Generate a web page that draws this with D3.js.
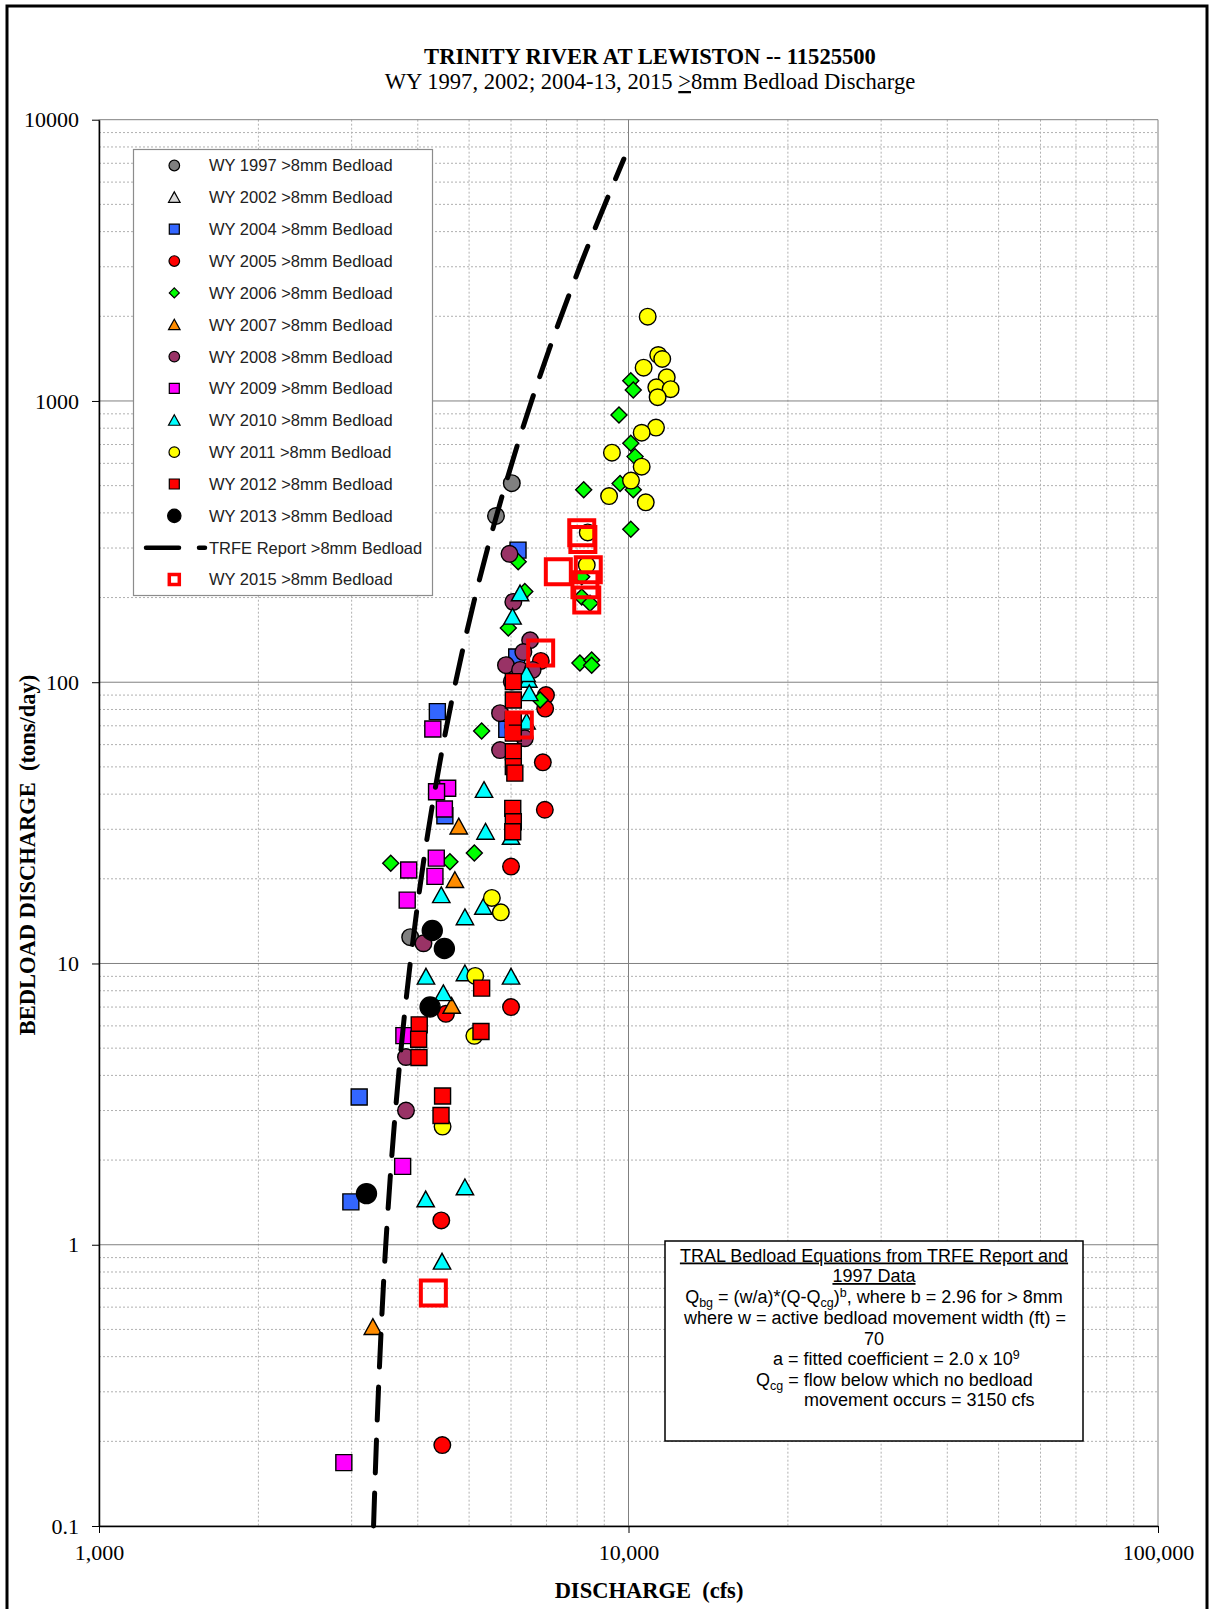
<!DOCTYPE html>
<html>
<head>
<meta charset="utf-8">
<script src="https://cdn.jsdelivr.net/npm/d3@7"></script>
<style>
  body { margin: 0; background: #fff; }
  .serif { font-family: "Liberation Serif", "Times New Roman", serif; }
  .sans { font-family: "Liberation Sans", Arial, sans-serif; }
  text { white-space: pre; }
</style>
</head>
<body>
<script>
// ---- data: [discharge (cfs), bedload (tons/day)] ----
const wy1997 = [[6020,510],[5620,390],[3870,12.4]];
const wy2002 = [];
const wy2004 = [[6185,295],[4355,78.6],[4500,33.5],[3100,3.35],[2990,1.42],[6150,123],[5890,68]];
const wy2005 = [[6830,119],[6985,90],[6960,80.6],[6890,51.9],[6950,35.2],[6000,22.1],[6000,7.0],
                [4520,6.62],[4430,1.22],[4450,0.194]];
const wy2006 = [[10100,1181],[10210,1094],[9595,891],[10100,707],[10290,634],[9640,509],[10210,483],
                [8230,483],[10100,350],[6190,268],[6370,210],[5930,156],[8095,117],[8520,120],[8520,115],
                [6810,86.5],[5280,67.1],[5115,24.7],[4600,23.0],[3556,22.7],[8160,237],[8160,201],[8460,191]];
const wy2007 = [[4780,30.7],[4700,19.8],[4635,7.07],[3290,0.51]];
const wy2008 = [[5960,286],[6060,193],[6520,141],[6330,128],[5870,115],[6240,110.6],[6590,110.6],
                [6020,100.5],[5720,77.6],[6370,63.2],[5720,57.4],[4100,11.8],[3800,4.65],[3800,3.0]];
const wy2009 = [[4270,68.2],[4555,42.0],[4340,40.8],[4490,35.4],[4335,23.7],[3845,21.5],[4310,20.4],
                [3820,16.8],[3765,5.54],[3745,1.90],[2900,0.168]];
const wy2010 = [[6240,207],[6040,171],[6470,102],[6420,107],[6495,91.4],[6420,72.4],[5335,41.4],
                [5370,29.4],[6000,28.2],[4430,17.5],[5320,15.9],[4910,14.6],[4145,8.98],[4910,9.23],
                [6000,8.98],[4470,7.84],[4140,1.45],[4910,1.60],[4445,0.871]];
const wy2011 = [[10870,1993],[11380,1457],[11580,1410],[10680,1313],[11810,1214],[11285,1118],
                [12010,1101],[11350,1031],[11270,804],[10590,771],[9305,655],[10590,584],[10110,521],
                [9190,459],[10780,436],[8375,341],[8340,261],[5520,17.1],[5740,15.2],[5135,9.03],
                [5115,5.53],[4455,2.63]];
const wy2012 = [[6060,100.5],[6060,86.5],[6060,73.5],[6060,65.9],[6060,56.6],[6060,50.1],[6100,47.5],
                [6045,35.6],[6060,31.9],[6045,29.4],[5280,8.17],[4025,6.05],[4015,5.38],[4020,4.63],
                [5265,5.73],[4455,3.38],[4425,2.88]];
const wy2013 = [[4260,13.1],[4490,11.3],[4220,7.0],[3200,1.52]];
const wy2015 = [[8160,340],[8200,322],[7370,247],[8395,251],[8275,222],[8340,196],[6825,127],
                [6220,70.5],[4280,0.673]];

// TRFE report curve, read at points along the dashed line
const trfeQ   = [3300, 3370, 3480, 3630, 3870, 4190, 4715, 5420, 6560, 8090, 9800];
const trfeBed = [0.1, 0.3, 1, 3, 10, 30, 100, 300, 1000, 3000, 7250];

const xTicks = [1000, 10000, 100000];
const yTicks = [0.1, 1, 10, 100, 1000, 10000];

// ---- series styling ----
const series = [
  {name:"WY 1997 >8mm Bedload", data:wy1997, shape:"circle",   fill:"#808080"},
  {name:"WY 2002 >8mm Bedload", data:wy2002, shape:"triangle", fill:"#d9d9d9"},
  {name:"WY 2004 >8mm Bedload", data:wy2004, shape:"square",   fill:"#3366ff"},
  {name:"WY 2005 >8mm Bedload", data:wy2005, shape:"circle",   fill:"#ff0000"},
  {name:"WY 2006 >8mm Bedload", data:wy2006, shape:"diamond",  fill:"#00ff00"},
  {name:"WY 2007 >8mm Bedload", data:wy2007, shape:"triangle", fill:"#ff8c00"},
  {name:"WY 2008 >8mm Bedload", data:wy2008, shape:"circle",   fill:"#993366"},
  {name:"WY 2009 >8mm Bedload", data:wy2009, shape:"square",   fill:"#ff00ff"},
  {name:"WY 2010 >8mm Bedload", data:wy2010, shape:"triangle", fill:"#00ffff"},
  {name:"WY 2011 >8mm Bedload", data:wy2011, shape:"circle",   fill:"#ffff00"},
  {name:"WY 2012 >8mm Bedload", data:wy2012, shape:"square",   fill:"#ff0000"},
  {name:"WY 2013 >8mm Bedload", data:wy2013, shape:"bigcircle",fill:"#000000"},
  {name:"TRFE Report >8mm Bedload", line:true},
  {name:"WY 2015 >8mm Bedload", data:wy2015, shape:"hollow",   fill:"none"}
];

const W = 1209, H = 1609;
const plotL = 99, plotR = 1158, plotT = 119.7, plotB = 1526;

const svg = d3.select("body").append("svg")
    .attr("width", W).attr("height", H);

svg.append("rect").attr("width", W).attr("height", H).attr("fill", "#fff");
// outer frame
svg.append("rect").attr("x", 7).attr("y", 6).attr("width", 1200).attr("height", 1640)
    .attr("fill", "none").attr("stroke", "#000").attr("stroke-width", 3);

const x = d3.scaleLog().domain([1000, 100000]).range([plotL, plotR]);
const y = d3.scaleLog().domain([0.1, 10000]).range([plotB, plotT]);

// grid
const minorX = [], minorY = [];
for (let e = 3; e < 5; e++) for (let k = 2; k <= 9; k++) minorX.push(k * Math.pow(10, e));
for (let e = -1; e < 4; e++) for (let k = 2; k <= 9; k++) minorY.push(+(k * Math.pow(10, e)).toPrecision(3));

const grid = svg.append("g");
grid.selectAll(".mx").data(minorX).enter().append("line")
    .attr("x1", d => x(d)).attr("x2", d => x(d)).attr("y1", plotT).attr("y2", plotB)
    .attr("stroke", "#b0b0b0").attr("stroke-width", 1).attr("stroke-dasharray", "2,2");
grid.selectAll(".my").data(minorY).enter().append("line")
    .attr("x1", plotL).attr("x2", plotR).attr("y1", d => y(d)).attr("y2", d => y(d))
    .attr("stroke", "#b0b0b0").attr("stroke-width", 1).attr("stroke-dasharray", "2,2");
grid.selectAll(".Mx").data(xTicks).enter().append("line")
    .attr("x1", d => x(d)).attr("x2", d => x(d)).attr("y1", plotT).attr("y2", plotB)
    .attr("stroke", "#808080").attr("stroke-width", 1);
grid.selectAll(".My").data(yTicks).enter().append("line")
    .attr("x1", plotL).attr("x2", plotR).attr("y1", d => y(d)).attr("y2", d => y(d))
    .attr("stroke", "#808080").attr("stroke-width", 1);

// axes
const yAxis = svg.append("g").attr("transform", `translate(${plotL},0)`)
    .call(d3.axisLeft(y).tickValues(yTicks).tickSize(7).tickSizeOuter(0).tickPadding(13)
        .tickFormat(d => d < 1 ? "0.1" : String(d)));
const xAxis = svg.append("g").attr("transform", `translate(0,${plotB})`)
    .call(d3.axisBottom(x).tickValues(xTicks).tickSize(7).tickSizeOuter(0).tickPadding(11)
        .tickFormat(d3.format(",")));
[yAxis, xAxis].forEach(a => {
  a.select(".domain").attr("stroke", "#000").attr("stroke-width", 1.5);
  a.selectAll(".tick line").attr("stroke", "#000");
  a.selectAll(".tick text").attr("class", "serif").attr("font-size", 22).attr("fill", "#000");
});

// marker paths
function shapePath(type, s) {
  if (type === "circle" || type === "bigcircle")
    return `M${-s},0A${s},${s} 0 1,0 ${s},0A${s},${s} 0 1,0 ${-s},0Z`;
  if (type === "square" || type === "hollow")
    return `M${-s},${-s}h${2*s}v${2*s}h${-2*s}Z`;
  if (type === "diamond")
    return `M0,${-s}L${s},0L0,${s}L${-s},0Z`;
  if (type === "triangle")
    return `M0,${-s*1.0}L${s*1.05},${s*0.9}L${-s*1.05},${s*0.9}Z`;
}
const plotSize = {circle:8.3, bigcircle:10, square:8, diamond:8, triangle:8.3, hollow:12.5};
const legSize  = {circle:5.3, bigcircle:6.7, square:5, diamond:5, triangle:5.5, hollow:5};

function drawMarkers(g, s, pts, sizes) {
  g.selectAll("path").data(pts).enter().append("path")
    .attr("d", shapePath(s.shape, sizes[s.shape]))
    .attr("transform", d => `translate(${x(d[0])},${y(d[1])})`)
    .attr("fill", s.fill)
    .attr("stroke", s.shape === "hollow" ? "#ff0000" : "#000")
    .attr("stroke-width", s.shape === "hollow" ? 4 : 1.4);
}

const trfe = trfeQ.map((q, i) => [q, trfeBed[i]]);
const lineGen = d3.line().x(d => x(d[0])).y(d => y(d[1])).curve(d3.curveMonotoneY);

const marks = svg.append("g");
series.forEach(s => {
  if (s.line) {
    marks.append("path").datum(trfe).attr("d", lineGen)
      .attr("fill", "none").attr("stroke", "#000").attr("stroke-width", 5)
      .attr("stroke-linecap", "round").attr("stroke-dasharray", "33,20");
  } else {
    drawMarkers(marks.append("g"), s, s.data, plotSize);
  }
});

// legend
const lg = svg.append("g");
lg.append("rect").attr("x", 133.5).attr("y", 149.5).attr("width", 299).attr("height", 446)
  .attr("fill", "#fff").attr("stroke", "#8c8c8c").attr("stroke-width", 1.2);
series.forEach((s, i) => {
  const cy = 165.5 + i * 31.85;
  if (s.line) {
    lg.append("line").attr("x1", 146).attr("x2", 205).attr("y1", cy).attr("y2", cy)
      .attr("stroke", "#000").attr("stroke-width", 4.5).attr("stroke-linecap", "round")
      .attr("stroke-dasharray", "33,20");
  } else {
    lg.append("path").attr("d", shapePath(s.shape, legSize[s.shape]))
      .attr("transform", `translate(174.3,${cy})`)
      .attr("fill", s.fill)
      .attr("stroke", s.shape === "hollow" ? "#ff0000" : "#000")
      .attr("stroke-width", s.shape === "hollow" ? 3.5 : 1.2);
  }
  lg.append("text").attr("class", "sans").attr("x", 209).attr("y", cy).attr("dy", "0.36em")
    .attr("font-size", 16.5).attr("fill", "#222").text(s.name);
});

// titles
svg.append("text").attr("class", "serif").attr("x", 650).attr("y", 64)
  .attr("text-anchor", "middle").attr("font-size", 22.6).attr("font-weight", "bold")
  .text("TRINITY RIVER AT LEWISTON -- 11525500");
const sub = svg.append("text").attr("class", "serif").attr("x", 650).attr("y", 89)
  .attr("text-anchor", "middle").attr("font-size", 22.6);
sub.append("tspan").text("WY 1997, 2002; 2004-13, 2015 ");
sub.append("tspan").attr("text-decoration", "underline").text(">");
sub.append("tspan").text("8mm Bedload Discharge");

svg.append("text").attr("class", "serif")
  .attr("transform", "translate(35,855) rotate(-90)")
  .attr("text-anchor", "middle").attr("font-size", 22.5).attr("font-weight", "bold")
  .text("BEDLOAD DISCHARGE  (tons/day)");
svg.append("text").attr("class", "serif").attr("x", 649).attr("y", 1598)
  .attr("text-anchor", "middle").attr("font-size", 22.5).attr("font-weight", "bold")
  .text("DISCHARGE  (cfs)");

// equation box
const eb = svg.append("g").attr("class", "sans").attr("font-size", 18).attr("fill", "#000");
eb.append("rect").attr("x", 665).attr("y", 1241).attr("width", 418).attr("height", 200)
  .attr("fill", "#fff").attr("stroke", "#000").attr("stroke-width", 1.5);
eb.append("text").attr("x", 874).attr("y", 1261.5).attr("text-anchor", "middle")
  .attr("text-decoration", "underline").text("TRAL Bedload Equations from TRFE Report and");
eb.append("text").attr("x", 874).attr("y", 1282).attr("text-anchor", "middle")
  .attr("text-decoration", "underline").text("1997 Data");
const l3 = eb.append("text").attr("x", 874).attr("y", 1303).attr("text-anchor", "middle");
l3.append("tspan").text("Q");
l3.append("tspan").attr("dy", 4).attr("font-size", 12.5).text("bg");
l3.append("tspan").attr("dy", -4).text(" = (w/a)*(Q-Q");
l3.append("tspan").attr("dy", 4).attr("font-size", 12.5).text("cg");
l3.append("tspan").attr("dy", -4).text(")");
l3.append("tspan").attr("dy", -6).attr("font-size", 12.5).text("b");
l3.append("tspan").attr("dy", 6).text(", where b = 2.96 for > 8mm");
eb.append("text").attr("x", 875).attr("y", 1324).attr("text-anchor", "middle")
  .text("where w = active bedload movement width (ft) =");
eb.append("text").attr("x", 874).attr("y", 1344.5).attr("text-anchor", "middle").text("70");
const l6 = eb.append("text").attr("x", 773).attr("y", 1365);
l6.append("tspan").text("a = fitted coefficient = 2.0 x 10");
l6.append("tspan").attr("dy", -6).attr("font-size", 12.5).text("9");
const l7 = eb.append("text").attr("x", 756).attr("y", 1385.5);
l7.append("tspan").text("Q");
l7.append("tspan").attr("dy", 4).attr("font-size", 12.5).text("cg");
l7.append("tspan").attr("dy", -4).text(" = flow below which no bedload");
eb.append("text").attr("x", 804).attr("y", 1406).text("movement occurs = 3150 cfs");
</script>
</body>
</html>
